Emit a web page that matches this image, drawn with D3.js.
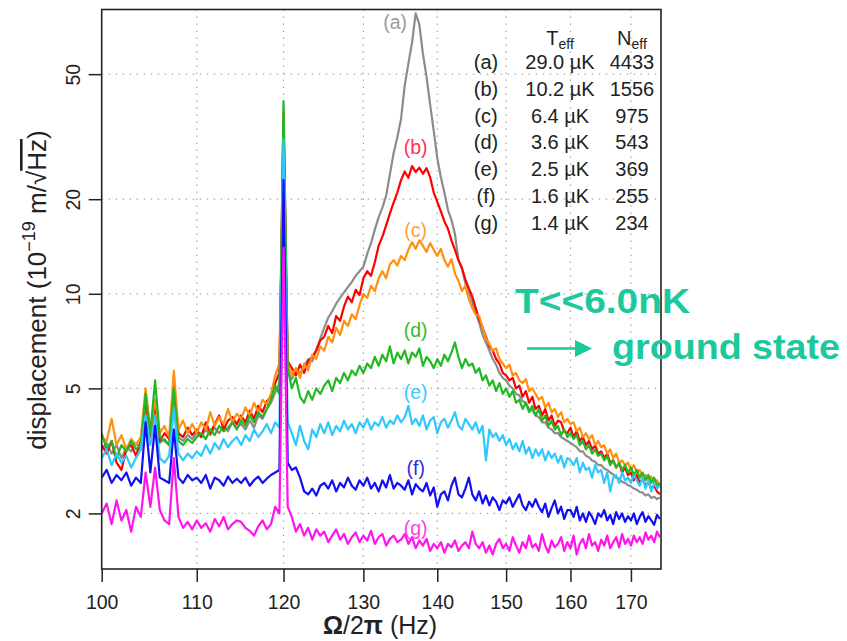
<!DOCTYPE html>
<html>
<head>
<meta charset="utf-8">
<script src="https://cdnjs.cloudflare.com/ajax/libs/d3/7.8.5/d3.min.js"></script>
<style>
  body { margin: 0; background: #fff; }
  text { font-family: 'Liberation Sans', Arial, sans-serif; }
</style>
</head>
<body>
<div id="main"></div>
<script>
// spectra sampled every 0.5 Hz from 100 Hz to 175 Hz
var freqStart = 100;
var freqStep = 0.5;

var curveNames = ['(a)', '(b)', '(c)', '(d)', '(e)', '(f)', '(g)'];
var teffLabels = ['29.0 µK', '10.2 µK', '6.4 µK', '3.6 µK', '2.5 µK', '1.6 µK', '1.4 µK'];
var neffLabels = ['4433', '1556', '975', '543', '369', '255', '234'];

var xTicks = [100, 110, 120, 130, 140, 150, 160, 170];
var yTicks = [2, 5, 10, 20, 50];

var specA = [
  3.2, 3.35, 3.1, 3.3, 3.0, 3.25, 3.15, 3.35, 3.2, 4.2,
  3.4, 4.4, 3.35, 3.45, 3.3, 4.8, 3.5, 3.4, 3.55, 3.45,
  3.6, 3.5, 3.7, 3.55, 3.75, 3.6, 3.8, 3.65, 3.9, 3.75,
  3.85, 3.7, 3.95, 3.75, 4.1, 4.0, 4.3, 4.5, 4.85, 5.2,
  35, 5.6, 5.35, 5.7, 5.6, 5.9, 6.2, 6.1, 6.6, 7.2,
  7.8, 8.4, 8.8, 9.3, 9.7, 10.1, 10.5, 10.9, 11.4, 11.8,
  12.2, 13.4, 14.5, 16.0, 17.5, 18.8, 20.5, 24.0, 28.0, 31.5,
  36, 46, 54, 63, 78, 72, 58, 49, 40, 33,
  27, 23.5, 21, 18.5, 17.2, 15.5, 12.8, 12.0, 10.8, 10.1,
  9.4, 8.7, 8.1, 7.4, 7.0, 6.6, 6.2, 5.95, 5.6, 5.4,
  5.3, 5.1, 5.0, 4.8, 4.75, 4.55, 4.5, 4.3, 4.25, 4.1,
  4.05, 3.9, 3.9, 3.75, 3.7, 3.6, 3.6, 3.5, 3.45, 3.4,
  3.35, 3.3, 3.25, 3.15, 3.15, 3.05, 3.02, 2.95, 2.92, 2.85,
  2.85, 2.78, 2.75, 2.7, 2.66, 2.6, 2.58, 2.52, 2.5, 2.46,
  2.44, 2.4, 2.38, 2.34, 2.33, 2.28, 2.3, 2.24, 2.26, 2.22,
  2.25
];

var specB = [
  3.3, 3.1, 3.4, 2.9, 2.75, 3.2, 3.3, 3.05, 3.4, 4.6,
  3.5, 4.5, 3.4, 3.6, 3.45, 5.2, 3.6, 3.5, 3.75, 3.55,
  3.7, 3.5, 3.9, 3.6, 3.85, 4.1, 3.7, 3.95, 4.05, 3.85,
  4.1, 3.9, 4.25, 4.0, 4.4, 4.2, 4.55, 4.7, 5.2, 5.6,
  38, 6.1, 5.8, 5.5, 5.95, 5.6, 6.1, 6.3, 6.6, 7.1,
  7.3, 7.9, 7.5, 8.5, 8.2, 9.1, 9.8, 9.4, 10.3, 9.9,
  11.2, 11.8, 11.4, 12.6, 14.2, 15.2, 16.5, 18.0, 19.5, 21.0,
  23.0, 24.5, 23.4, 25.5, 24.4, 25.2, 24.1, 25.1, 23.5, 21.0,
  19.6, 18.3, 17.0, 16.1, 14.8, 13.8, 12.8, 12.1, 11.1, 10.4,
  9.8, 9.0, 8.3, 7.8, 7.3, 6.8, 6.6, 6.2, 6.0, 5.6,
  5.5, 5.3, 5.4, 5.0, 5.1, 4.7, 4.9, 4.5, 4.7, 4.3,
  4.4, 4.1, 4.3, 3.95, 4.1, 3.8, 3.95, 3.9, 3.65, 3.6,
  3.75, 3.5, 3.65, 3.4, 3.5, 3.3, 3.4, 3.2, 3.3, 3.1,
  3.15, 3.0, 3.1, 2.9, 2.95, 2.8, 2.9, 2.7, 2.8, 2.65,
  2.7, 2.55, 2.65, 2.5, 2.58, 2.45, 2.52, 2.4, 2.45, 2.35,
  2.3
];

var specC = [
  3.5, 3.4, 4.0, 3.3, 3.55, 3.2, 3.45, 3.3, 3.5, 5.0,
  3.7, 4.6, 3.6, 3.8, 3.5, 5.7, 3.7, 3.95, 3.6, 3.85,
  3.6, 3.9, 3.7, 4.2, 3.8, 4.05, 3.85, 4.3, 3.9, 4.15,
  4.0, 4.35, 4.1, 4.5, 4.2, 4.6, 4.45, 4.8, 5.5, 6.0,
  27.6, 6.0, 5.5, 5.8, 5.4, 6.0, 5.7, 6.4, 6.2, 6.8,
  6.6, 7.3, 7.0, 7.8, 7.4, 8.2, 7.9, 8.6, 8.3, 9.2,
  10.0, 9.7, 10.6, 10.2, 11.2, 11.8, 11.2, 12.4, 12.8, 12.3,
  13.2, 12.8, 13.8, 14.6, 13.9, 14.8, 14.2, 13.6, 14.5, 13.8,
  13.2, 13.9, 12.8, 12.2, 12.9, 11.6, 11.0, 10.2, 10.6, 9.6,
  9.0, 8.6, 8.5, 7.8, 7.2, 6.9, 6.6, 6.7, 6.2, 6.0,
  5.8, 5.95, 5.5, 5.6, 5.3, 5.2, 5.35, 4.9, 5.0, 4.8,
  4.6, 4.7, 4.35, 4.5, 4.2, 4.3, 4.05, 4.2, 3.9, 4.0,
  3.85, 3.9, 3.65, 3.75, 3.5, 3.6, 3.45, 3.55, 3.3, 3.4,
  3.25, 3.3, 3.1, 3.2, 3.0, 3.1, 2.9, 2.95, 2.85, 2.9,
  2.75, 2.85, 2.7, 2.75, 2.6, 2.65, 2.55, 2.62, 2.5, 2.55,
  2.45
];

var specD = [
  3.6, 3.2, 3.4, 3.0, 3.3, 3.15, 3.4, 3.2, 3.3, 4.8,
  3.6, 5.3, 3.5, 3.4, 3.3, 5.0, 3.4, 3.3, 3.45, 3.35,
  3.5, 3.6, 3.45, 3.7, 3.55, 3.8, 3.65, 3.75, 3.9, 3.7,
  3.95, 3.8, 4.1, 3.9, 4.2, 4.05, 4.3, 4.6, 5.1, 4.8,
  41, 5.8, 5.0, 5.4, 4.7, 4.5, 4.9, 4.6, 5.0, 4.8,
  5.1, 5.3, 4.9, 5.4, 5.2, 5.6, 5.3, 5.7, 5.5, 5.9,
  5.6, 6.0, 5.8, 6.3, 5.9, 6.4, 6.1, 6.8, 6.0, 6.5,
  6.2, 6.6, 6.0, 6.5, 6.3, 6.7, 5.9, 6.3, 6.1, 5.8,
  6.2, 5.9, 6.4, 6.1, 6.5, 7.0, 6.3, 5.8, 6.2, 5.9,
  6.0, 5.6, 5.8, 5.3, 5.5, 5.1, 5.3, 4.9, 5.2, 4.8,
  5.0, 4.7, 4.9, 4.5, 4.6, 4.3, 4.5, 4.2, 4.4, 4.1,
  4.3, 3.95, 4.1, 3.8, 3.95, 3.7, 3.8, 3.55, 3.7, 3.5,
  3.6, 3.45, 3.55, 3.3, 3.4, 3.2, 3.3, 3.1, 3.2, 3.05,
  3.1, 2.95, 3.05, 2.85, 2.95, 2.8, 2.9, 2.75, 2.85, 2.7,
  2.8, 2.65, 2.75, 2.6, 2.7, 2.55, 2.65, 2.5, 2.6, 2.45,
  2.5
];

var specE = [
  3.0, 3.2, 2.85, 3.1, 2.9, 3.05, 2.8, 3.0, 3.2, 4.1,
  3.3, 4.1, 3.0, 2.9, 3.05, 4.3, 3.1, 2.95, 3.1, 3.0,
  3.15, 3.05, 3.3, 3.1, 3.35, 3.2, 3.45, 3.25, 3.4, 3.5,
  3.3, 3.55, 3.4, 3.7, 3.5, 3.65, 3.85, 3.6, 3.9, 3.75,
  31, 3.9, 3.6, 3.3, 3.8, 3.4, 3.2, 3.7, 3.5, 3.85,
  3.6, 3.9, 3.55, 3.8, 3.65, 3.95, 3.7, 3.85, 3.6, 3.9,
  3.75, 4.0, 3.7, 3.9, 3.8, 4.05, 3.75, 3.95, 3.85, 4.1,
  3.9, 4.05, 4.4, 3.85, 4.0, 3.8, 4.1, 3.7, 3.95, 4.05,
  3.6, 3.9, 4.0, 3.75, 3.95, 4.2, 3.8, 3.7, 4.0, 3.85,
  3.7, 3.9, 3.6, 3.8, 2.95, 3.7, 3.5, 3.6, 3.4, 3.55,
  3.3, 3.45, 3.2, 3.35, 3.15, 3.4, 3.1, 3.25, 3.0, 3.2,
  3.05, 3.2, 2.95, 3.15, 3.0, 3.1, 2.9, 3.05, 2.8, 3.0,
  2.95, 2.85, 3.0, 2.7, 2.9, 2.75, 2.8, 2.6, 2.85, 2.7,
  2.75, 2.5, 2.7, 2.35, 2.6, 2.65, 2.5, 2.7, 2.55, 2.6,
  2.5, 2.65, 2.55, 2.45, 2.6, 2.4, 2.55, 2.35, 2.5, 2.4,
  2.45
];

var specF = [
  2.6, 2.75, 2.5, 2.65, 2.55, 2.7, 2.45, 2.6, 2.5, 3.9,
  2.7, 3.8, 2.6, 2.55, 2.5, 3.7, 2.6, 2.5, 2.65, 2.55,
  2.6, 2.5, 2.65, 2.4, 2.6, 2.55, 2.45, 2.62, 2.5, 2.58,
  2.5, 2.6, 2.45, 2.55, 2.62, 2.5, 2.58, 2.65, 2.7, 2.75,
  23, 2.9, 2.75, 2.8, 2.6, 2.35, 2.3, 2.4, 2.28, 2.45,
  2.5, 2.4, 2.55, 2.35, 2.5, 2.42, 2.6, 2.45, 2.38, 2.55,
  2.45, 2.6, 2.4, 2.5, 2.35, 2.55, 2.42, 2.65, 2.4, 2.5,
  2.45, 2.38, 2.55, 2.3, 2.48, 2.4, 2.35, 2.5, 2.28, 2.42,
  2.1, 2.3, 2.35, 2.2, 2.45, 2.6, 2.3, 2.25, 2.4, 2.6,
  2.3, 2.2, 2.35, 2.15, 2.28, 2.12, 2.25, 2.18, 2.05, 2.2,
  2.15, 2.25, 2.1, 2.2, 2.3, 2.12, 2.05, 2.18, 2.1, 2.22,
  2.1, 2.02, 2.15, 1.95, 2.08, 2.2, 2.0, 2.1, 1.92, 2.05,
  2.05, 1.95, 2.1, 1.9, 2.0, 1.88, 2.02, 1.95, 1.85, 2.0,
  1.95, 2.05, 1.9, 1.98, 1.85, 2.02, 1.92, 2.0, 1.88, 1.96,
  1.9, 2.0, 1.85, 1.95, 2.02, 1.88, 1.96, 1.9, 1.84, 1.98,
  1.92
];

var specG = [
  2.0, 2.15, 1.85, 2.2, 1.9, 2.05, 1.75, 2.1, 1.95, 2.7,
  2.1, 2.8, 2.05, 1.9, 1.85, 3.0, 1.95, 1.8, 1.88, 1.78,
  1.9, 1.8, 1.86, 1.75, 1.92, 1.82, 1.95, 1.78, 1.85, 1.9,
  1.88, 1.8, 1.76, 1.7, 1.82, 1.9, 1.78, 1.85, 2.1, 2.0,
  14, 2.1, 1.95, 1.75, 1.85, 1.7, 1.8, 1.65, 1.78, 1.7,
  1.75, 1.62, 1.7, 1.78, 1.65, 1.72, 1.6, 1.68, 1.74, 1.62,
  1.7, 1.64, 1.76, 1.6, 1.68, 1.72, 1.58, 1.66, 1.7, 1.62,
  1.65, 1.72, 1.6, 1.68, 1.55, 1.64, 1.58, 1.66, 1.52, 1.6,
  1.55, 1.62, 1.5, 1.6, 1.56, 1.64, 1.52, 1.58, 1.62, 1.55,
  1.75, 1.6, 1.55, 1.62, 1.5, 1.58, 1.48, 1.6, 1.66, 1.55,
  1.6, 1.52, 1.68, 1.58, 1.5, 1.62, 1.55, 1.7, 1.56, 1.6,
  1.52, 1.72, 1.58, 1.5, 1.64, 1.56, 1.6, 1.68, 1.52, 1.62,
  1.55, 1.7, 1.48, 1.6, 1.66, 1.55, 1.72, 1.58, 1.62, 1.52,
  1.65, 1.58, 1.7, 1.55, 1.62, 1.68, 1.56, 1.72, 1.6, 1.66,
  1.58, 1.7, 1.62, 1.68, 1.6, 1.74, 1.65, 1.7, 1.62, 1.75,
  1.68
];

// where the (a)...(g) tags sit, in data units
var tagFreq = [134.2, 137, 137, 137, 137, 137, 137];
var tagValue = [69.5, 27.8, 15.2, 7.27, 4.64, 2.66, 1.71];

var lineColors = ['#8c8c8c', '#ff0000', '#ff9010', '#22b822', '#2ec8ff', '#1010f0', '#ff14ee'];
var tagColors = ['#9a9a9a', '#ff3050', '#ffa040', '#3cb82c', '#40c8ff', '#3a2ad8', '#ff40dd'];

var allSpectra = [specA, specB, specC, specD, specE, specF, specG];

var width = 847;
var height = 641;
var plotLeft = 101.7, plotRight = 661, plotTop = 9.5, plotBottom = 569;

var svg = d3.select('#main').append('svg')
  .attr('width', width)
  .attr('height', height);

var x = d3.scaleLog().domain([100, 175.2]).range([plotLeft, plotRight]);
var y = d3.scaleLog().domain([1.331, 80.3]).range([plotBottom, plotTop]);

var freq = d3.range(specA.length).map(function (i) {
  return freqStart + i * freqStep;
});

// dotted grid
var grid = svg.append('g');

grid.selectAll('.vgrid')
  .data(xTicks.slice(1))
  .enter()
  .append('line')
  .attr('x1', function (d) { return x(d) })
  .attr('x2', function (d) { return x(d) })
  .attr('y1', plotTop)
  .attr('y2', plotBottom)
  .attr('stroke', '#a8a8a8')
  .attr('stroke-width', 1.2)
  .attr('stroke-dasharray', '1.5,5.5');

grid.selectAll('.hgrid')
  .data(yTicks)
  .enter()
  .append('line')
  .attr('x1', plotLeft)
  .attr('x2', plotRight)
  .attr('y1', function (d) { return y(d) })
  .attr('y2', function (d) { return y(d) })
  .attr('stroke', '#a8a8a8')
  .attr('stroke-width', 1.2)
  .attr('stroke-dasharray', '1.5,5.5');

svg.append('clipPath')
  .attr('id', 'plotclip')
  .append('rect')
  .attr('x', plotLeft)
  .attr('y', plotTop)
  .attr('width', plotRight - plotLeft)
  .attr('height', plotBottom - plotTop);

var lineGenerator = d3.line()
  .x(function (d, i) { return x(freq[i]) })
  .y(function (d) { return y(d) });

var curves = svg.append('g').attr('clip-path', 'url(#plotclip)');

allSpectra.forEach(function (spec, k) {

  curves.append('path')
    .datum(spec)
    .attr('fill', 'none')
    .attr('stroke', lineColors[k])
    .attr('stroke-width', 2.2)
    .attr('stroke-linejoin', 'round')
    .attr('d', lineGenerator);
});

// tags next to the curves
svg.selectAll('.tag')
  .data(curveNames)
  .enter()
  .append('text')
  .attr('x', function (d, i) { return x(tagFreq[i]) })
  .attr('y', function (d, i) { return y(tagValue[i]) })
  .attr('text-anchor', 'middle')
  .attr('font-size', 19.5)
  .attr('fill', function (d, i) { return tagColors[i] })
  .text(function (d) { return d });

// axes
var xAxis = svg.append('g')
  .attr('transform', 'translate(0,' + plotBottom + ')')
  .call(d3.axisBottom(x).tickValues(xTicks).tickFormat(d3.format('d')).tickSize(13).tickSizeOuter(0));

xAxis.select('.domain').remove();
xAxis.selectAll('line').attr('stroke', '#222').attr('stroke-width', 1.5);
xAxis.selectAll('text')
  .attr('font-size', 19.5)
  .attr('font-family', "'Liberation Sans', Arial, sans-serif")
  .attr('fill', '#222')
  .attr('dy', null)
  .attr('y', 39.5);

var yAxis = svg.append('g')
  .attr('transform', 'translate(' + plotLeft + ',0)')
  .call(d3.axisLeft(y).tickValues(yTicks).tickFormat(d3.format('d')).tickSize(13).tickSizeOuter(0));

yAxis.select('.domain').remove();
yAxis.selectAll('line').attr('stroke', '#222').attr('stroke-width', 1.5);
yAxis.selectAll('text')
  .attr('font-size', 19.5)
  .attr('font-family', "'Liberation Sans', Arial, sans-serif")
  .attr('fill', '#222')
  .attr('x', null)
  .attr('dy', null)
  .attr('text-anchor', 'middle')
  .attr('transform', 'translate(-22,0) rotate(-90)');

svg.append('rect')
  .attr('x', plotLeft)
  .attr('y', plotTop)
  .attr('width', plotRight - plotLeft)
  .attr('height', plotBottom - plotTop)
  .attr('fill', 'none')
  .attr('stroke', '#222')
  .attr('stroke-width', 1.6);

// axis titles
var xTitle = svg.append('text')
  .attr('x', 380)
  .attr('y', 634)
  .attr('text-anchor', 'middle')
  .attr('font-size', 25)
  .attr('fill', '#222');

xTitle.append('tspan').attr('font-weight', 'bold').text('Ω');
xTitle.append('tspan').text('/2');
xTitle.append('tspan').attr('font-weight', 'bold').text('π');
xTitle.append('tspan').text(' (Hz)');

var yTitle = svg.append('text')
  .attr('transform', 'translate(46,290) rotate(-90)')
  .attr('text-anchor', 'middle')
  .attr('font-size', 26)
  .attr('fill', '#222');

yTitle.append('tspan').text('displacement (10');
yTitle.append('tspan').attr('font-size', 18).attr('dy', -11).text('−19');
yTitle.append('tspan').attr('dy', 11).text(' m/√');
yTitle.append('tspan').attr('text-decoration', 'overline').text('Hz');
yTitle.append('tspan').text(')');

// temperature table
var table = svg.append('g').attr('font-size', 20).attr('fill', '#222');

var teffHead = table.append('text').attr('x', 560).attr('y', 45).attr('text-anchor', 'middle');
teffHead.append('tspan').text('T');
teffHead.append('tspan').attr('font-size', 14).attr('dy', 4).text('eff');

var neffHead = table.append('text').attr('x', 632).attr('y', 45).attr('text-anchor', 'middle');
neffHead.append('tspan').text('N');
neffHead.append('tspan').attr('font-size', 14).attr('dy', 4).text('eff');

var rowY = function (i) { return 69 + i * 26.8 };

table.selectAll('.name')
  .data(curveNames)
  .enter()
  .append('text')
  .attr('x', 486)
  .attr('y', function (d, i) { return rowY(i) })
  .attr('text-anchor', 'middle')
  .text(function (d) { return d });

table.selectAll('.teff')
  .data(teffLabels)
  .enter()
  .append('text')
  .attr('x', 560)
  .attr('y', function (d, i) { return rowY(i) })
  .attr('text-anchor', 'middle')
  .text(function (d) { return d });

table.selectAll('.neff')
  .data(neffLabels)
  .enter()
  .append('text')
  .attr('x', 632)
  .attr('y', function (d, i) { return rowY(i) })
  .attr('text-anchor', 'middle')
  .text(function (d) { return d });

// hand-written note
var noteColor = '#1cc89c';

svg.append('text')
  .attr('x', 515)
  .attr('y', 313)
  .attr('font-family', "'Comic Sans MS', 'DejaVu Sans', sans-serif")
  .attr('font-weight', 'bold')
  .attr('font-size', 35)
  .attr('fill', noteColor)
  .attr('textLength', 175)
  .attr('lengthAdjust', 'spacingAndGlyphs')
  .text('T<<6.0nK');

svg.append('text')
  .attr('x', 612)
  .attr('y', 359)
  .attr('font-family', "'Comic Sans MS', 'DejaVu Sans', sans-serif")
  .attr('font-weight', 'bold')
  .attr('font-size', 35)
  .attr('fill', noteColor)
  .attr('textLength', 228)
  .attr('lengthAdjust', 'spacingAndGlyphs')
  .text('ground state');

svg.append('line')
  .attr('x1', 527)
  .attr('x2', 578)
  .attr('y1', 348.5)
  .attr('y2', 348.5)
  .attr('stroke', noteColor)
  .attr('stroke-width', 2.6);

svg.append('path')
  .attr('d', 'M575,340 L592,348.5 L575,357 Z')
  .attr('fill', noteColor);
</script>
</body>
</html>
